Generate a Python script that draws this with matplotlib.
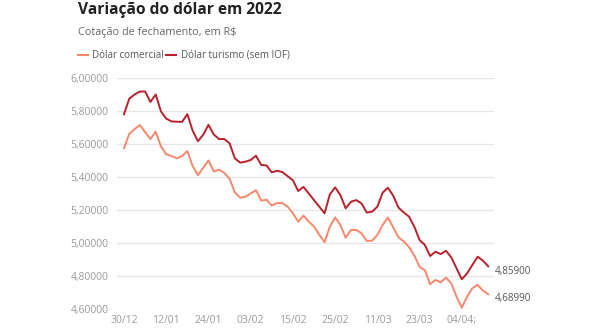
import matplotlib
matplotlib.use("Agg")
import matplotlib.pyplot as plt

plt.rcParams['font.family'] = ['Open Sans', 'DejaVu Sans']

# fechamento diário (R$)
datas = ['30/12', '12/01', '24/01', '03/02', '15/02', '25/02', '11/03', '23/03', '04/04;']
comercial = [5.575, 5.662, 5.690, 5.715, 5.672, 5.630, 5.675, 5.585, 5.537, 5.527,
             5.513, 5.527, 5.557, 5.467, 5.412, 5.455, 5.500, 5.434, 5.444, 5.425,
             5.390, 5.307, 5.275, 5.280, 5.300, 5.320, 5.257, 5.262, 5.228, 5.242,
             5.242, 5.220, 5.180, 5.129, 5.166, 5.130, 5.100, 5.050, 5.005, 5.099,
             5.155, 5.109, 5.032, 5.079, 5.079, 5.059, 5.012, 5.014, 5.049, 5.109,
             5.155, 5.095, 5.035, 5.010, 4.975, 4.925, 4.855, 4.835, 4.750, 4.776,
             4.762, 4.790, 4.756, 4.675, 4.608, 4.675, 4.726, 4.746, 4.711, 4.6899]
turismo = [5.781, 5.875, 5.900, 5.918, 5.918, 5.855, 5.900, 5.797, 5.754, 5.737,
           5.735, 5.734, 5.781, 5.681, 5.617, 5.656, 5.716, 5.658, 5.630, 5.630,
           5.604, 5.513, 5.487, 5.493, 5.503, 5.529, 5.473, 5.470, 5.428, 5.438,
           5.430, 5.405, 5.380, 5.315, 5.340, 5.300, 5.260, 5.220, 5.180, 5.295,
           5.337, 5.290, 5.210, 5.250, 5.260, 5.240, 5.184, 5.190, 5.220, 5.305,
           5.335, 5.287, 5.215, 5.185, 5.160, 5.099, 5.018, 4.988, 4.921, 4.947,
           4.933, 4.953, 4.913, 4.847, 4.780, 4.816, 4.867, 4.917, 4.893, 4.859]
yticks = [4.6, 4.8, 5.0, 5.2, 5.4, 5.6, 5.8, 6.0]

cor_comercial = '#f7876a'
cor_turismo = '#b8202a'

fig = plt.figure(figsize=(5.9, 3.3), dpi=100)
ax = fig.add_axes([117 / 590, 21 / 330, 377 / 590, 231 / 330])

x = list(range(len(comercial)))
ax.plot(x, comercial, color=cor_comercial, lw=1.4, solid_joinstyle='round')
ax.plot(x, turismo, color=cor_turismo, lw=1.4, solid_joinstyle='round')

ax.set_xlim(-1.33, 70.1)
ax.set_ylim(4.6, 6.0)
ax.set_yticks(yticks)
ax.set_yticklabels([f'{v:.5f}'.replace('.', ',') for v in yticks])
ax.set_xticks(range(0, 8 * len(datas), 8))
ax.set_xticklabels(datas)
ax.tick_params(axis='both', length=0, labelsize=7.5, colors='#9a9a9a')
ax.tick_params(axis='y', pad=6)
ax.tick_params(axis='x', pad=4)
ax.grid(axis='y', color='#e6e6e6', lw=0.9)
ax.set_axisbelow(True)
for s in ax.spines.values():
    s.set_visible(False)

# valores finais
ax.annotate(f'{turismo[-1]:.5f}'.replace('.', ','), (x[-1], turismo[-1]),
            xytext=(5, -4), textcoords='offset points', fontsize=7.1,
            color='#555555', va='center', annotation_clip=False)
ax.annotate(f'{comercial[-1]:.5f}'.replace('.', ','), (x[-1], comercial[-1]),
            xytext=(5, -3), textcoords='offset points', fontsize=7.1,
            color='#555555', va='center', annotation_clip=False)

fig.text(78 / 590, 1 - 10 / 330, 'Variação do dólar em 2022', fontsize=11.2,
         fontweight='bold', color='#222222', va='center')
fig.text(78 / 590, 1 - 33 / 330, 'Cotação de fechamento, em R$', fontsize=7.8,
         color='#666666', va='center')

# legenda
ly = 1 - 55 / 330
fig.add_artist(plt.Line2D([78 / 590, 88 / 590], [ly, ly], color=cor_comercial, lw=1.5))
fig.text(92 / 590, ly, 'Dólar comercial', fontsize=7.0, color='#555555', va='center')
fig.add_artist(plt.Line2D([166 / 590, 176 / 590], [ly, ly], color=cor_turismo, lw=1.5))
fig.text(181 / 590, ly, 'Dólar turismo (sem IOF)', fontsize=7.0, color='#555555', va='center')

fig.savefig('out.png', dpi=100, facecolor='white')
